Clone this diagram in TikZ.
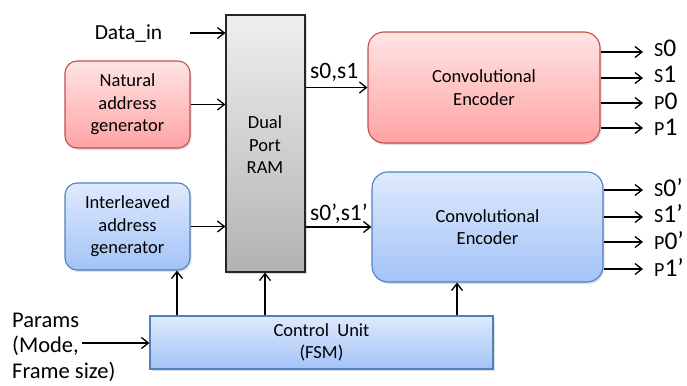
\documentclass[tikz,border=0pt]{standalone}
\usepackage{fontspec}
\setmainfont{Carlito}
\usetikzlibrary{arrows.meta,shadows}
\definecolor{redtop}{HTML}{FFE4E4}
\definecolor{redbot}{HTML}{FFA3A3}
\definecolor{redline}{HTML}{C0504D}
\definecolor{bluetop}{HTML}{DEEAFD}
\definecolor{bluebot}{HTML}{A3C3F7}
\definecolor{blueline}{HTML}{4F81BD}
\definecolor{graytop}{HTML}{EFEFEF}
\definecolor{graybot}{HTML}{B2B2B2}
\newcommand{\boxfont}{\fontsize{18.5}{22.5}\selectfont}
\newcommand{\labfont}{\fontsize{21.5}{25}\selectfont}
\newcommand{\outfont}{\fontsize{25.5}{28}\selectfont}
\newcommand{\sm}[1]{{\fontsize{20}{22}\selectfont #1}}
\tikzset{
  blk/.style={draw, line width=1.1pt, inner sep=0pt, align=center, font=\boxfont,
    drop shadow={opacity=0.25, shadow xshift=1.5pt, shadow yshift=-2pt}},
  redblk/.style={blk, draw=redline, top color=redtop, bottom color=redbot},
  blueblk/.style={blk, draw=blueline, top color=bluetop, bottom color=bluebot},
  ramblk/.style={blk, draw=black!85, top color=graytop, bottom color=graybot},
  lab/.style={font=\labfont, inner sep=0pt},
  outlab/.style={font=\outfont, inner sep=0pt, anchor=west},
  arr/.style={line width=1.4pt, -{Straight Barb[length=7pt,width=11pt,line width=1.3pt]}},
}
\begin{document}
\begin{tikzpicture}[x=1pt,y=-1pt]
\useasboundingbox (0,0) rectangle (687,385);
% blocks
\node[ramblk, minimum width=79pt, minimum height=257pt] (ram) at (265.5,143.5) {};
\node[font=\boxfont, align=center] (ramtxt) at (265,145) {Dual\\Port\\RAM};
\node[redblk, rounded corners=12pt, minimum width=125pt, minimum height=87pt] (nag) at (127.5,104.5) {Natural\\address\\generator};
\node[blueblk, rounded corners=12pt, minimum width=125pt, minimum height=87pt] (iag) at (127.5,226.5) {Interleaved\\address\\generator};
\node[redblk, rounded corners=16pt, minimum width=232pt, minimum height=111pt] (encr) at (484,87.5) {Convolutional\\Encoder};
\node[blueblk, rounded corners=16pt, minimum width=231pt, minimum height=110pt] (encb) at (487.5,227) {Convolutional\\Encoder};
\node[blueblk, minimum width=343pt, minimum height=53pt] (cu) at (321.5,342.5) {Control\ \ Unit\\(FSM)};
% inputs
\node[lab] (din) at (128.5,34) {Data\_in};
\coordinate (dins) at (190,33);
\draw[arr] (dins) -- (dins -| ram.west);
\draw[arr] (nag.east) -- (nag.east -| ram.west);
\draw[arr] (iag.east) -- (iag.east -| ram.west);
\node[lab, anchor=west, font=\fontsize{23.5}{26}\selectfont] (s01) at (310,72) {s0,s1};
\node[lab, anchor=west, font=\fontsize{23.5}{26}\selectfont] (s01p) at (310,214) {s0’,s1’};
\draw[arr] (encr.west -| ram.east) -- (encr.west);
\draw[arr] (encb.west -| ram.east) -- (encb.west);
% outputs red
\node[outlab] (o1) at (654,48) {\sm{S}0};
\node[outlab] (o2) at (654,74) {\sm{S}1};
\node[outlab] (o3) at (654,101) {\sm{P}0};
\node[outlab] (o4) at (654,127) {\sm{P}1};
\foreach \o/\y in {o1/52,o2/78,o3/103,o4/128}{
  \coordinate (c\o) at (643,\y);
  \draw[arr] (c\o -| encr.east) -- (c\o);
}
% outputs blue
\node[outlab] (q1) at (654,188) {\sm{S}0’};
\node[outlab] (q2) at (654,214) {\sm{S}1’};
\node[outlab] (q3) at (654,241) {\sm{P}0’};
\node[outlab] (q4) at (654,268) {\sm{P}1’};
\foreach \o/\y in {q1/190,q2/217,q3/242,q4/269}{
  \coordinate (c\o) at (643,\y);
  \draw[arr] (c\o -| encb.east) -- (c\o);
}
% control unit
\coordinate (v1) at (177,0);
\coordinate (v2) at (265,0);
\coordinate (v3) at (457,0);
\draw[arr] (cu.north -| v1) -- (iag.south -| v1);
\draw[arr] (cu.north -| v2) -- (ram.south -| v2);
\draw[arr] (cu.north -| v3) -- (encb.south -| v3);
\node[lab, anchor=west, align=left, font=\fontsize{22.5}{25.5}\selectfont] (par) at (12,347) {Params\\(Mode,\\Frame size)};
\coordinate (pin) at (82,343);
\draw[arr] (pin) -- (pin -| cu.west);
\end{tikzpicture}
\end{document}
